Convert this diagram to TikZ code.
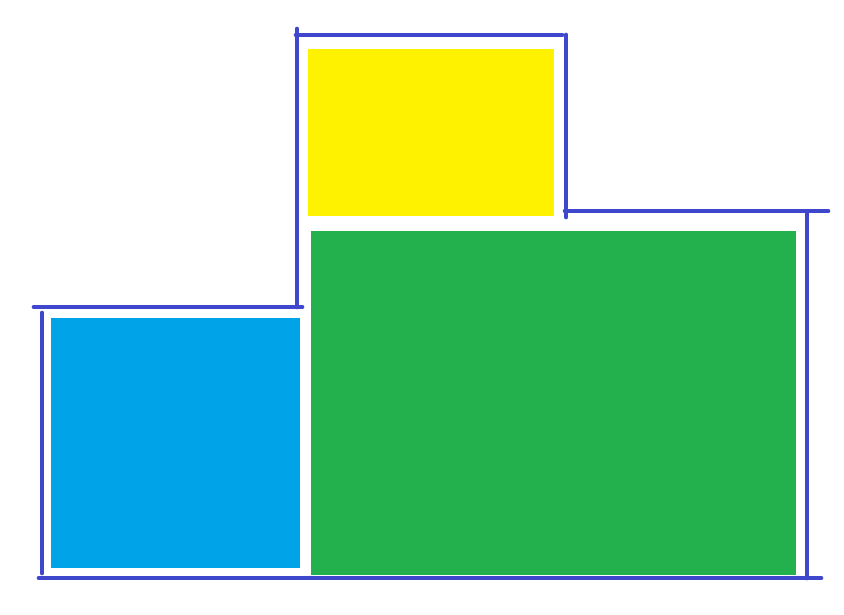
\documentclass[tikz,border=0pt]{standalone}
\usepackage{tikz}
\usepackage{xcolor}
\definecolor{indigo}{RGB}{63, 72, 204}
\definecolor{jaune}{RGB}{255, 242, 0}
\definecolor{vert}{RGB}{34, 177, 76}
\definecolor{turquoise}{RGB}{0, 162, 232}

\begin{document}
\begin{tikzpicture}[x=1pt, y=-1pt, trait/.style={indigo, line width=4.7pt, line cap=round}]
                \useasboundingbox (0,0) rectangle (844,615);

                % boites
                \fill[jaune] (308,49) rectangle (554,216);
                \fill[vert] (311,231) rectangle (796,575);
                \fill[turquoise] (51,318) rectangle (300,568);

                % contour haut
                \draw[trait] (297,29) -- (297,307);
                \draw[trait] (296,35) -- (562,35);
                \draw[trait] (566,35) -- (566,217);

                % contour droite
                \draw[trait] (565,211) -- (828,211);
                \draw[trait] (807,214) -- (807,578);

                % contour gauche
                \draw[trait] (34,307) -- (302,307);
                \draw[trait] (42,313) -- (42,573);

                % sol
                \draw[trait] (39,578) -- (821,578);
\end{tikzpicture}
\end{document}
